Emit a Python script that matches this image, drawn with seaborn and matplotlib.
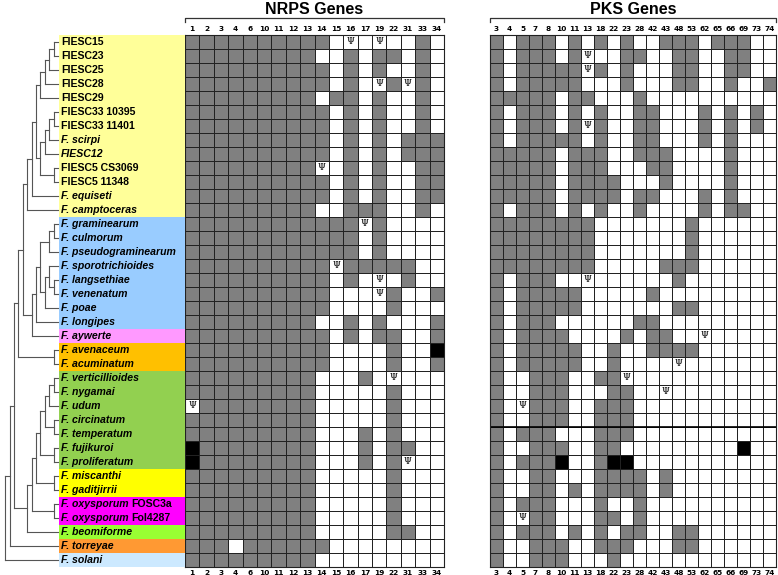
import matplotlib
matplotlib.use("Agg")
import matplotlib.pyplot as plt
from matplotlib.colors import ListedColormap
import numpy as np
import seaborn as sns

species = ["FIESC15","FIESC23","FIESC25","FIESC28","FIESC29","FIESC33 10395","FIESC33 11401",
           "F. scirpi","FIESC12","FIESC5 CS3069","FIESC5 11348","F. equiseti","F. camptoceras",
           "F. graminearum","F. culmorum","F. pseudograminearum","F. sporotrichioides","F. langsethiae",
           "F. venenatum","F. poae","F. longipes","F. aywerte","F. avenaceum","F. acuminatum",
           "F. verticillioides","F. nygamai","F. udum","F. circinatum","F. temperatum","F. fujikuroi",
           "F. proliferatum","F. miscanthi","F. gaditjirrii","F. oxysporum FOSC3a","F. oxysporum Fol4287",
           "F. beomiforme","F. torreyae","F. solani"]
italic_names = set(s for s in species if s.startswith("F. ")) | {"FIESC12"}
clade_colors = ["#ffff99"]*13 + ["#99ccff"]*8 + ["#ff99ff"] + ["#ffc000"]*2 + ["#92d050"]*7 + \
               ["#ffff00"]*2 + ["#ff00ff"]*2 + ["#99ff33"] + ["#ff9933"] + ["#cce9ff"]

nrps_genes = ["1","2","3","4","6","10","11","12","13","14","15","16","17","19","22","31","33","34"]
pks_genes = ["3","4","5","7","8","10","11","13","18","22","23","28","42","43","48","53","62","65","66","69","73","74"]

# G = present, W = absent, B = black, P = pseudogene (Psi)
nrps_rows = [
 "GGGGGGGGG"+"GWPWPWWGW","GGGGGGGGG"+"WWGWGGWGW","GGGGGGGGG"+"GWGWGWWGW","GGGGGGGGG"+"GWGWPGPGW",
 "GGGGGGGGG"+"WGGWGWWGW","GGGGGGGGG"+"GWGWGWWGW","GGGGGGGGG"+"GWGWGWWGW","GGGGGGGGG"+"GWGWGWGGG",
 "GGGGGGGGG"+"GWGWGWGGG","GGGGGGGGG"+"PWGWGWWGG","GGGGGGGGG"+"GWGWGWWGG","GGGGGGGGG"+"GWGWGWWGG",
 "GGGGGGGGG"+"WWGGGWWGW","GGGGGGGGG"+"GGGPGWWWW","GGGGGGGGG"+"GGGWGWWWW","GGGGGGGGG"+"GGGWGWWWW",
 "GGGGGGGGG"+"GPGGGGGWW","GGGGGGGGG"+"GWGWPWGWW","GGGGGGGGG"+"GWWWPGWWG","GGGGGGGGG"+"GWWWWGWWW",
 "GGGGGGGGG"+"WWGWGWWWG","GGGGGGGGG"+"GWGWGGWWG","GGGGGGGGG"+"GWWWWGWWB","GGGGGGGGG"+"GWWWWGWWG",
 "GGGGGGGGG"+"WWWGWPWWW","GGGGGGGGG"+"WWWWWGWWW","PGGGGGGGG"+"WWWWWGWWW","GGGGGGGGG"+"WWWWWGWWW",
 "GGGGGGGGG"+"WWWGWGWWW","BGGGGGGGG"+"WWWGWGGWW","BGGGGGGGG"+"WWWGWGPWW","GGGGGGGGG"+"WWWWWGWWW",
 "GGGGGGGGG"+"WWWWWGWWW","GGGGGGGGG"+"WWWWWGWWW","GGGGGGGGG"+"WWWWWGWWW","GGGGGGGGG"+"WWWWWGGWW",
 "GGGWGGGGG"+"GWWWWWWWW","GGGGGGGGG"+"WWWWWWWWW"]
pks_rows = [
 "GWGGGWGWGWG"+"WWGGGWGGGWW","GWGGGWGPWWG"+"GWWGGWWGGWW","GWGGGGGPGWG"+"WWWGGWWGGWW","GWGGGGGWWWG"+"WWWGGWWGWWG",
 "GGGGGWGGWWW"+"GWWWWWWWWWW","GWGGGWGWGWW"+"GGWWWGWGWGW","GWGGGWGPGWW"+"GGWWWGWGWGW","GWGGGGGWGWW"+"GGWWWGWGWWW",
 "GGGGGWGGGWW"+"GGGWWWWGWWW","GGGGGWGGGWW"+"WGGWWWWGWWW","GGGGGWGGGGW"+"WWGWWWWGWWW","GGGGGWGGGGW"+"GGWWWGWGWWW",
 "GWGGGWGWGWW"+"GWWWWGWGGWW","GGGGGGGGWWW"+"WWWWGWWWWWW","GGGGGGGGWWW"+"WWWWGWWWWWW","GGGGGGGGWWW"+"WWWWGWWWWWW",
 "GGGGGGGGWWW"+"WWGGGWWWWWW","GWGGGWWPWWW"+"WWWGWWWWWWW","GWGGGGGWWWW"+"WGWWWWWWWWW","GWGGGGGWWWW"+"WWWGGWWWWWW",
 "GWGGGWWWWWW"+"GGWWWWWWWWW","GWGGGGWWWWG"+"WGGWWPWWWWW","GWGGGGGWWGW"+"WGGGGWWWWWW","GWGGGGGWWGW"+"WWWPWWWWWWW",
 "GWWGGGWWGGP"+"WWWWWWWWWWW","GWWGGGWWWGG"+"WWPWWWWWWWW","GWPGGGWWGGG"+"WWWWWWWWWWW","GWWGGGWWGGG"+"WWWWWWWWWWW",
 "GWGGGWWWGGG"+"WWWWWWWWWWW","GWWGGGWWGGW"+"WWWWWWWWBWW","GWGGGBWWGBB"+"WWWWWWWWWWW","GWWGGWWWGGG"+"GWGWWWWWWWW",
 "GWWGGWGWGGG"+"GWGWWWWWWWW","GWGGGWWWGWW"+"GWWWWWWWWWW","GWPGGWWWGGW"+"GWWWWWWWWWW","GWGGGWGWGWG"+"GWWGGWWWWWW",
 "GWWGGGWWGGG"+"WWWGGWWWWWW","GWWGGGWWWGW"+"WWWWWWWWWWW"]

# cladogram topology (leaf indices)
yellow = (((((((0,1),2),3),4),((((5,6),7),8),(9,10))),11),12)
blue = (((((13,14),15),((16,(17,18)),19)),20),21)
orange = (22,23)
green = ((((((24,25),26),(27,28)),(29,30)),(31,32)),(33,34))
tree = (((((yellow, blue), orange), (green, 35)), 36), 37)

code = {"W":0,"G":1,"B":2,"P":0}
def to_mat(rows):
    return np.array([[code[c] for c in r] for r in rows])
def to_ann(rows):
    return np.array([["Ψ" if c=="P" else "" for c in r] for r in rows])

W, H = 778, 575
fig = plt.figure(figsize=(W/100, H/100), dpi=100)
top, bot = 35, 567
cmap = ListedColormap(["#ffffff", "#808080", "#000000"])

def grid_ax(x0, x1):
    return fig.add_axes([x0/W, (H-bot)/H, (x1-x0)/W, (bot-top)/H])

for rows, genes, x0, x1 in [(nrps_rows, nrps_genes, 185, 444), (pks_rows, pks_genes, 490, 776)]:
    ax = grid_ax(x0, x1)
    sns.heatmap(to_mat(rows), ax=ax, cmap=cmap, vmin=-0.5, vmax=2.5, cbar=False,
                linewidths=0.6, linecolor="#222222", annot=to_ann(rows), fmt="",
                annot_kws={"fontsize":6.5, "color":"black", "fontfamily":"DejaVu Serif"})
    ax.set_xticks(np.arange(len(genes))+0.5)
    ax.set_xticklabels(genes, fontsize=5.3, fontweight="bold", rotation=0)
    ax.tick_params(axis="x", length=0, pad=2, labeltop=True, labelbottom=True)
    ax.set_yticks([])
    ax.set_xlabel(""); ax.set_ylabel("")
    for s in ax.spines.values():
        s.set_visible(True); s.set_color("#222222"); s.set_linewidth(0.8)
    if x0 == 490:
        ax.axhline(28, color="black", lw=1.2)

ov = fig.add_axes([0, 0, 1, 1]); ov.set_xlim(0, W); ov.set_ylim(H, 0); ov.axis("off")
rh = (bot-top)/len(species)
fam = "Liberation Sans"
fs = 7.6
renderer = fig.canvas.get_renderer()

for i, (sp, col) in enumerate(zip(species, clade_colors)):
    y0 = top + i*rh
    ov.add_patch(plt.Rectangle((59, y0), 126, rh, color=col, lw=0))
    yc = y0 + rh/2
    if sp.startswith("F. oxysporum "):
        t = ov.text(61, yc, "F. oxysporum", fontsize=fs, fontweight="bold", style="italic",
                    family=fam, va="center", ha="left")
        bb = t.get_window_extent(renderer)
        ov.text(bb.x1 + 3, yc, sp.split(" ")[-1], fontsize=fs, fontweight="bold", family=fam,
                va="center", ha="left", transform=None) if False else None
        x_end = ov.transData.inverted().transform((bb.x1, bb.y0))[0]
        ov.text(x_end + 3, yc, sp.split(" ")[-1], fontsize=fs, fontweight="bold", family=fam,
                va="center", ha="left")
    else:
        ov.text(61, yc, sp, fontsize=fs, fontweight="bold", family=fam,
                style="italic" if sp in italic_names else "normal", va="center", ha="left")

for name, x0, x1 in [("NRPS Genes", 185, 444), ("PKS Genes", 490, 776)]:
    ov.text((x0+x1)/2, 9, name, fontsize=11.5, fontweight="bold", family=fam,
            ha="center", va="center")
    ov.plot([x0, x0, x1, x1], [22, 18, 18, 22], color="#333333", lw=0.9)

leaf_x, step = 58, 4.4
def draw(node):
    if isinstance(node, int):
        return leaf_x, top + (node+0.5)*rh, 0
    ch = [draw(c) for c in node]
    h = max(c[2] for c in ch) + 1
    x = leaf_x - step*h
    ys = [c[1] for c in ch]
    for cx, cy, _ in ch:
        ov.plot([x, cx], [cy, cy], color="#555555", lw=0.8)
    ov.plot([x, x], [min(ys), max(ys)], color="#555555", lw=0.8)
    return x, np.mean(ys), h
draw(tree)

fig.savefig("out.png", dpi=100)
